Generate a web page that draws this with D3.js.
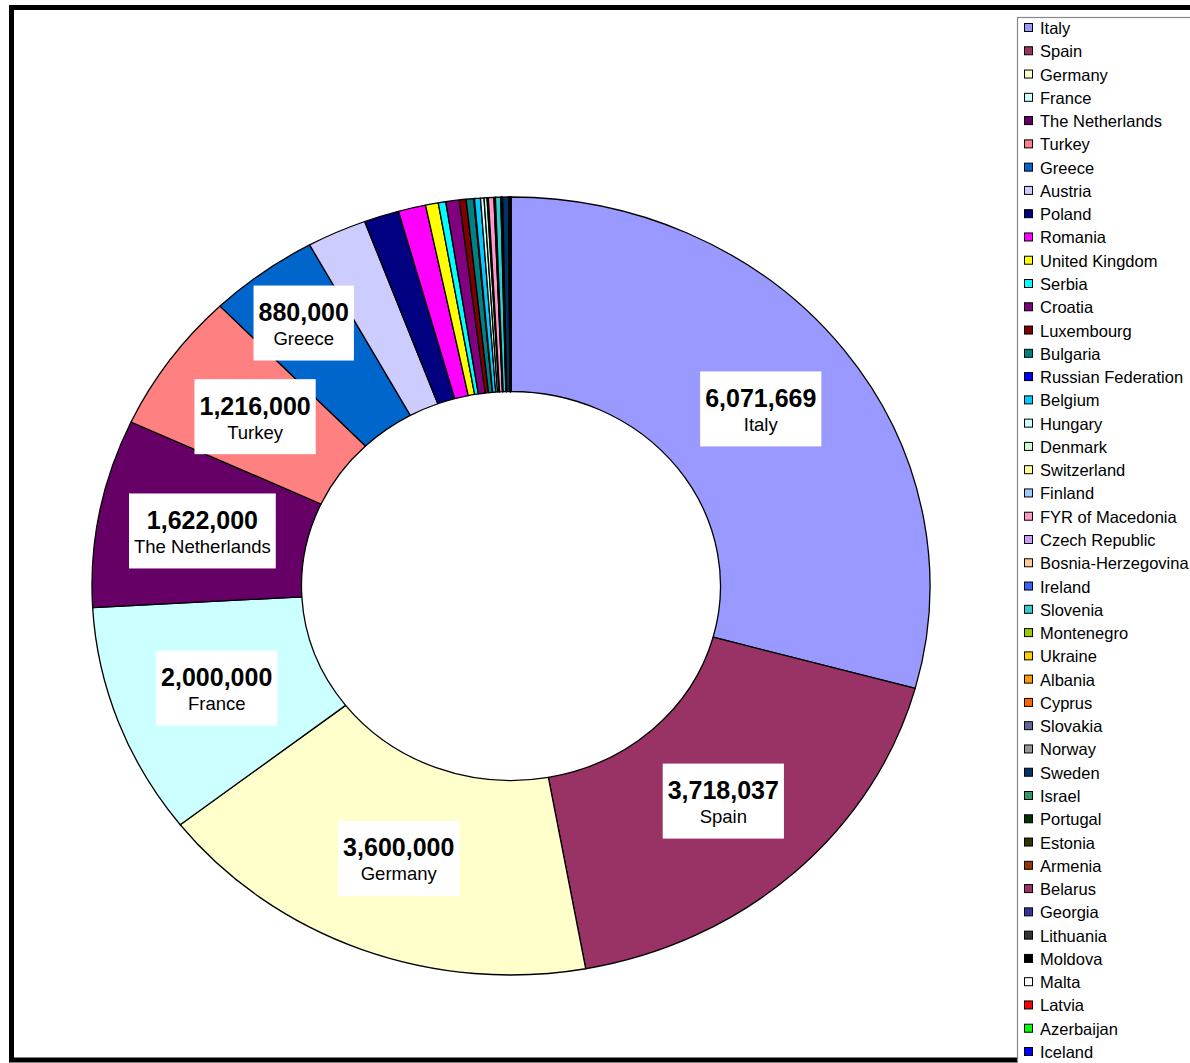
<!DOCTYPE html>
<html>
<head>
<meta charset="utf-8">
<script src="https://cdn.jsdelivr.net/npm/d3@7"></script>
<style>
  html, body { margin: 0; padding: 0; background: #fff; }
  svg { display: block; }
  text { font-family: "Liberation Sans", Arial, sans-serif; }
</style>
</head>
<body>
<svg id="chart" width="1190" height="1063"></svg>
<script>
const countries = ["Italy","Spain","Germany","France","The Netherlands","Turkey","Greece","Austria","Poland","Romania","United Kingdom","Serbia","Croatia","Luxembourg","Bulgaria","Russian Federation","Belgium","Hungary","Denmark","Switzerland","Finland","FYR of Macedonia","Czech Republic","Bosnia-Herzegovina","Ireland","Slovenia","Montenegro","Ukraine","Albania","Cyprus","Slovakia","Norway","Sweden","Israel","Portugal","Estonia","Armenia","Belarus","Georgia","Lithuania","Moldova","Malta","Latvia","Azerbaijan","Iceland"];
const values = [6071669,3718037,3600000,2000000,1622000,1216000,880000,478000,280000,220000,102000,60000,108000,54000,60000,6000,48000,28000,24000,6000,4000,44000,4000,4000,4000,42000,4000,3000,2000,2000,2000,2000,48000,1500,1500,1500,1500,1500,1500,1500,1500,1500,1500,1500,1500];
const colors = ["#9999FF","#993366","#FFFFCC","#CCFFFF","#660066","#FF8080","#0066CC","#CCCCFF","#000080","#FF00FF","#FFFF00","#00FFFF","#800080","#800000","#008080","#0000FF","#00CCFF","#CCFFFF","#CCFFCC","#FFFF99","#99CCFF","#FF99CC","#CC99FF","#FFCC99","#3366FF","#33CCCC","#99CC00","#FFCC00","#FF9900","#FF6600","#666699","#969696","#003366","#339966","#003300","#333300","#993300","#993366","#333399","#333333","#000000","#FFFFFF","#FF0000","#00FF00","#0000FF"];
const labelled = ["Italy","Spain","Germany","France","The Netherlands","Turkey","Greece"];

const data = countries.map((c, i) => ({ name: c, value: values[i], color: colors[i] }));

const svg = d3.select("#chart");

// chart frame
svg.append("rect").attr("x", 11.5).attr("y", 7.5).attr("width", 1300).attr("height", 1052.5)
  .attr("fill", "#fff").attr("stroke", "#000").attr("stroke-width", 5);

const cx = 511, cy = 586, rx = 419, ry = 389;
const sx = rx / ry;

const pie = d3.pie().sort(null).value(d => d.value);
const arcs = pie(data);
const arc = d3.arc().innerRadius(ry * 0.5).outerRadius(ry);

const g = svg.append("g").attr("transform", `translate(${cx},${cy}) scale(${sx},1)`);
g.selectAll("path").data(arcs).join("path")
  .attr("d", arc)
  .attr("fill", d => d.data.color)
  .attr("stroke", "#000")
  .attr("stroke-width", 1.3)
  .attr("stroke-linejoin", "round")
  .attr("vector-effect", "non-scaling-stroke");

// labels
const nudge = { "Greece": [-21, -28] };
const fmt = d3.format(",");
const lg = svg.append("g").attr("transform", `translate(${cx},${cy})`);
arcs.filter(d => labelled.includes(d.data.name)).forEach(d => {
  const c = arc.centroid(d);
  const n = nudge[d.data.name] || [0, 0];
  const x = c[0] * sx + n[0], y = c[1] + n[1];
  const grp = lg.append("g").attr("transform", `translate(${x},${y})`);
  const rect = grp.append("rect").attr("fill", "#fff");
  const t1 = grp.append("text").attr("text-anchor", "middle").attr("y", -11)
    .attr("dominant-baseline", "central")
    .attr("font-size", 25).attr("font-weight", "bold").text(fmt(d.data.value));
  const t2 = grp.append("text").attr("text-anchor", "middle").attr("y", 15.5)
    .attr("dominant-baseline", "central")
    .attr("font-size", 18.5).text(d.data.name);
  const w = Math.max(t1.node().getComputedTextLength(), t2.node().getComputedTextLength()) + 10;
  rect.attr("x", -w / 2).attr("y", -37.5).attr("width", w).attr("height", 75);
});

// legend
const leg = svg.append("g");
leg.append("rect").attr("x", 1017.5).attr("y", 17.5).attr("width", 300).attr("height", 1100)
  .attr("fill", "#fff").attr("stroke", "#888").attr("stroke-width", 1.2);
const rowY = d3.scalePoint().domain(countries).range([28, 1052]);
const items = leg.selectAll("g.item").data(data).join("g").attr("class", "item")
  .attr("transform", d => `translate(0,${rowY(d.name)})`);
items.append("rect").attr("x", 1024.5).attr("y", -4.5).attr("width", 8).attr("height", 8)
  .attr("fill", d => d.color).attr("stroke", "#000").attr("stroke-width", 1);
items.append("text").attr("x", 1040).attr("y", 0).attr("dominant-baseline", "central")
  .attr("font-size", 16.5).attr("fill", "#000").text(d => d.name);
</script>
</body>
</html>
